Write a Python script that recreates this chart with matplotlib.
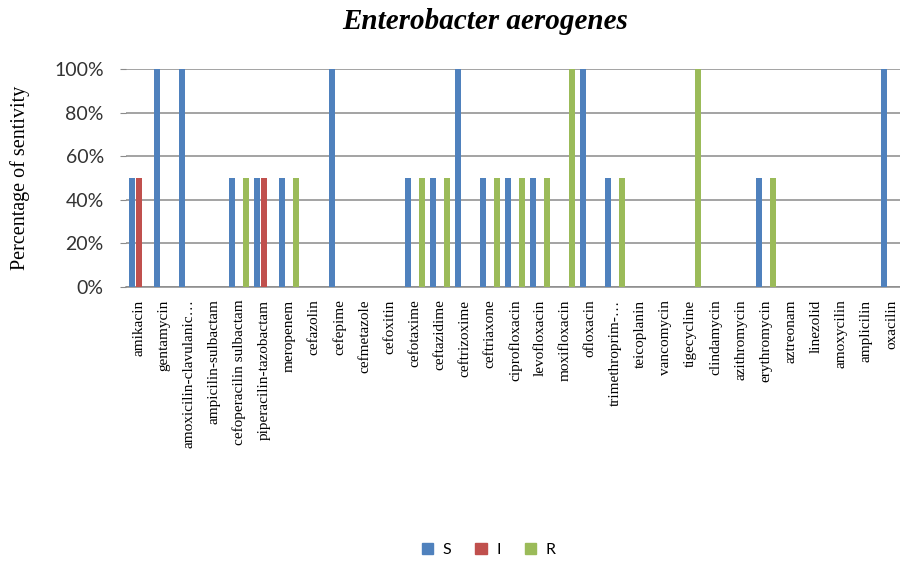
import numpy as np
import matplotlib.pyplot as plt
from matplotlib.patches import Patch

# antibiotics on the x axis
drugs = ["amikacin", "gentamycin", "amoxicilin-clavulanic…", "ampicilin-sulbactam",
         "cefoperacilin sulbactam", "piperacilin-tazobactam", "meropenem", "cefazolin",
         "cefepime", "cefmetazole", "cefoxitin", "cefotaxime", "ceftazidime",
         "ceftrizoxime", "ceftriaxone", "ciprofloxacin", "levofloxacin", "moxifloxacin",
         "ofloxacin", "trimethroprim-…", "teicoplanin", "vancomycin", "tigecycline",
         "clindamycin", "azithromycin", "erythromycin", "aztreonam", "linezolid",
         "amoxycilin", "amplicilin", "oxacilin"]

# percentages
S = [50, 100, 100, 0, 50, 50, 50, 0, 100, 0, 0, 50, 50, 100, 50, 50, 50, 0,
     100, 50, 0, 0, 0, 0, 0, 50, 0, 0, 0, 0, 100]
I = [50, 0, 0, 0, 0, 50, 0, 0, 0, 0, 0, 0, 0, 0, 0, 0, 0, 0,
     0, 0, 0, 0, 0, 0, 0, 0, 0, 0, 0, 0, 0]
R = [0, 0, 0, 0, 50, 0, 50, 0, 0, 0, 0, 50, 50, 0, 50, 50, 50, 100,
     0, 50, 0, 0, 100, 0, 0, 50, 0, 0, 0, 0, 0]

series = [("S", S, "#4F81BD"), ("I", I, "#C0504D"), ("R", R, "#9BBB59")]

fig = plt.figure(figsize=(9, 5.62), dpi=100)
ax = fig.add_axes([0.14, 0.4893, 0.86, 0.3879])

x = np.arange(len(drugs))
w = 0.24
for k, (name, vals, col) in enumerate(series):
    ax.bar(x + (k - 1) * 0.28, np.array(vals) / 100, width=w, color=col,
           zorder=3, label=name)

ax.set_xlim(-0.5, len(drugs) - 0.66)
ax.set_ylim(0, 1.0)
ax.set_yticks(np.arange(0, 1.01, 0.2))
ax.set_yticklabels([f"{int(v * 100)}%" for v in np.arange(0, 1.01, 0.2)],
                   fontfamily="Lato", fontsize=14, color="#333333")
ax.yaxis.grid(True, color="#8a8a8a", linewidth=1.1, zorder=0)
ax.tick_params(axis="y", length=4, color="#8a8a8a", pad=12)

ax.set_xticks(x)
ax.set_xticklabels(drugs, rotation=90, fontfamily="Liberation Serif", fontsize=11)
ax.tick_params(axis="x", length=0, pad=9)

for side in ["top", "right", "left"]:
    ax.spines[side].set_visible(False)
ax.spines["bottom"].set_color("#8a8a8a")
ax.spines["bottom"].set_linewidth(1.1)

fig.text(0.539, 0.961, "Enterobacter aerogenes", ha="center", va="center",
         fontfamily="Liberation Serif", fontsize=21, fontweight="bold", fontstyle="italic")
fig.text(0.022, 0.683, "Percentage of sentivity", rotation=90, ha="center", va="center",
         fontfamily="Liberation Serif", fontsize=14.5)

handles = [Patch(color=c, label=n) for n, _, c in series]
fig.legend(handles=handles, loc="center", bbox_to_anchor=(0.543, 1 - 550 / 562),
           ncol=3, frameon=False, handlelength=0.7, handleheight=0.7,
           handletextpad=0.6, columnspacing=1.5,
           prop={"family": "Lato", "size": 11.5})

fig.savefig("out.png", dpi=100, facecolor="white")
